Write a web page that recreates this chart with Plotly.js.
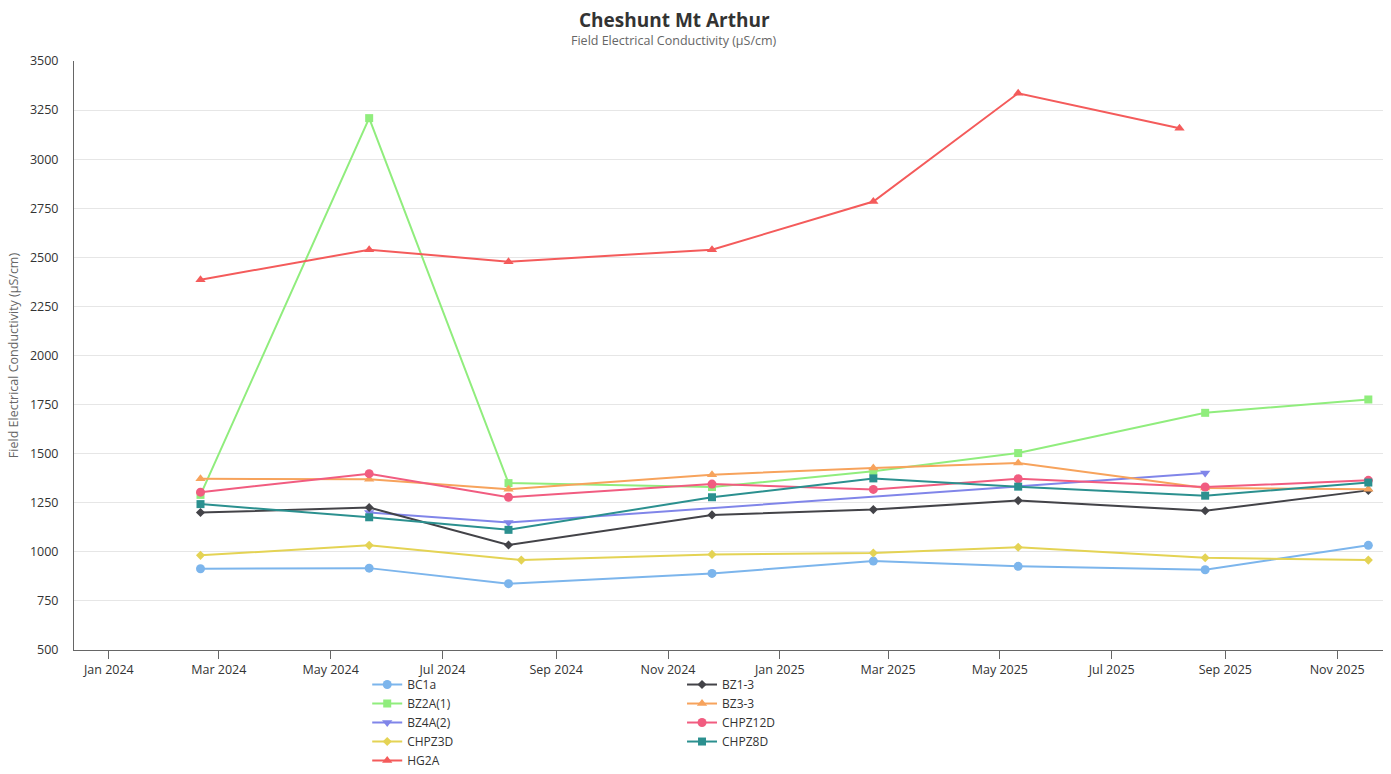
<!DOCTYPE html>
<html>
<head>
<meta charset="utf-8">
<script src="https://cdn.plot.ly/plotly-3.0.1.min.js"></script>
<style>html,body{margin:0;padding:0;background:#fff;}#chart{width:1391px;height:774px;}</style>
</head>
<body>
<div id="chart"></div>
<script>
// Sampling dates
const datesMain = ["2024-02-20","2024-05-22","2024-08-06","2024-11-25","2025-02-21","2025-05-11","2025-08-21","2025-11-18"];
const datesCHPZ3D = ["2024-02-20","2024-05-22","2024-08-13","2024-11-25","2025-02-21","2025-05-11","2025-08-21","2025-11-18"];
const datesBZ4A = ["2024-05-22","2024-08-06","2025-08-21"];
const datesHG2A = ["2024-02-20","2024-05-22","2024-08-06","2024-11-25","2025-02-21","2025-05-11","2025-08-07"];

// Values (µS/cm)
const BC1a    = [914, 917, 838, 890, 953, 926, 909, 1033];
const BZ2A_1  = [1290, 3209, 1350, 1330, 1410, 1503, 1708, 1776];
const BZ4A_2  = [1200, 1149, 1401];
const CHPZ3D  = [982, 1033, 958, 987, 994, 1023, 970, 958];
const HG2A    = [2386, 2539, 2478, 2539, 2784, 3336, 3158];
const BZ1_3   = [1200, 1226, 1035, 1188, 1215, 1261, 1209, 1313];
const BZ3_3   = [1372, 1370, 1319, 1393, 1427, 1452, 1325, 1319];
const CHPZ12D = [1304, 1398, 1278, 1345, 1318, 1372, 1330, 1364];
const CHPZ8D  = [1243, 1176, 1112, 1278, 1374, 1332, 1286, 1353];

const titleText = "<b>Cheshunt Mt Arthur</b>";
const subtitleText = "Field Electrical Conductivity (µS/cm)";
const yTitleText = "Field Electrical Conductivity (µS/cm)";

function tr(name, x, y, color, symbol, legend, size) {
  return {
    type: "scatter", mode: "lines+markers", name: name, x: x, y: y,
    line: {color: color, width: 2},
    marker: {color: color, symbol: symbol, size: size || 8},
    legend: legend
  };
}

const data = [
  tr("BC1a", datesMain, BC1a, "#7cb5ec", "circle", "legend", 9),
  tr("BZ2A(1)", datesMain, BZ2A_1, "#90ed7d", "square", "legend", 8),
  tr("BZ4A(2)", datesBZ4A, BZ4A_2, "#8085e9", "triangle-down", "legend", 9),
  tr("CHPZ3D", datesCHPZ3D, CHPZ3D, "#e4d354", "diamond", "legend", 7),
  tr("HG2A", datesHG2A, HG2A, "#f45b5b", "triangle-up", "legend", 9),
  tr("BZ1-3", datesMain, BZ1_3, "#434348", "diamond", "legend2", 7),
  tr("BZ3-3", datesMain, BZ3_3, "#f7a35c", "triangle-up", "legend2", 9),
  tr("CHPZ12D", datesMain, CHPZ12D, "#f15c80", "circle", "legend2", 9),
  tr("CHPZ8D", datesMain, CHPZ8D, "#2b908f", "square", "legend2", 8)
];

const fontFam = "Open Sans, Noto Sans, sans-serif";
const plotH = 774 - 61 - 124;
const layout = {
  width: 1391, height: 774,
  paper_bgcolor: "#fff", plot_bgcolor: "#fff",
  font: {family: fontFam, size: 12, color: "#333"},
  margin: {l: 74, r: 8, t: 61, b: 124, autoexpand: false},
  annotations: [
    {text: titleText, xref: "paper", yref: "paper", x: 0.4585, y: (650 - 20) / plotH,
     xanchor: "center", yanchor: "middle", showarrow: false,
     font: {family: fontFam, size: 19, color: "#333"}},
    {text: subtitleText, xref: "paper", yref: "paper", x: 0.4585, y: (650 - 41) / plotH,
     xanchor: "center", yanchor: "middle", showarrow: false,
     font: {family: fontFam, size: 12.5, color: "#666"}}
  ],
  xaxis: {
    type: "date",
    range: ["2023-12-13", "2025-11-26"],
    tick0: "2024-01-01", dtick: "M2", tickformat: "%b %Y",
    showgrid: false, showline: true, linecolor: "#666", linewidth: 1,
    ticks: "outside", ticklen: 8, tickcolor: "#666",
    tickfont: {size: 12.5, color: "#333"}, zeroline: false
  },
  yaxis: {
    range: [500, 3500], dtick: 250, tick0: 500,
    showgrid: true, gridcolor: "#e6e6e6", gridwidth: 1,
    showline: true, linecolor: "#666", linewidth: 1,
    ticks: "", zeroline: false, ticklabelstandoff: 12,
    tickfont: {size: 12.5, color: "#333"},
    title: {text: yTitleText, font: {size: 12.5, color: "#666"}, standoff: 8}
  },
  legend: {
    x: 0.224, xanchor: "left", y: -0.034, yanchor: "top",
    orientation: "v", font: {size: 12, color: "#333"}, bgcolor: "rgba(0,0,0,0)",
    tracegroupgap: 0
  },
  legend2: {
    x: 0.4645, xanchor: "left", y: -0.034, yanchor: "top",
    orientation: "v", font: {size: 12, color: "#333"}, bgcolor: "rgba(0,0,0,0)",
    tracegroupgap: 0
  },
  showlegend: true
};

Plotly.newPlot("chart", data, layout, {displayModeBar: false});
</script>
</body>
</html>
